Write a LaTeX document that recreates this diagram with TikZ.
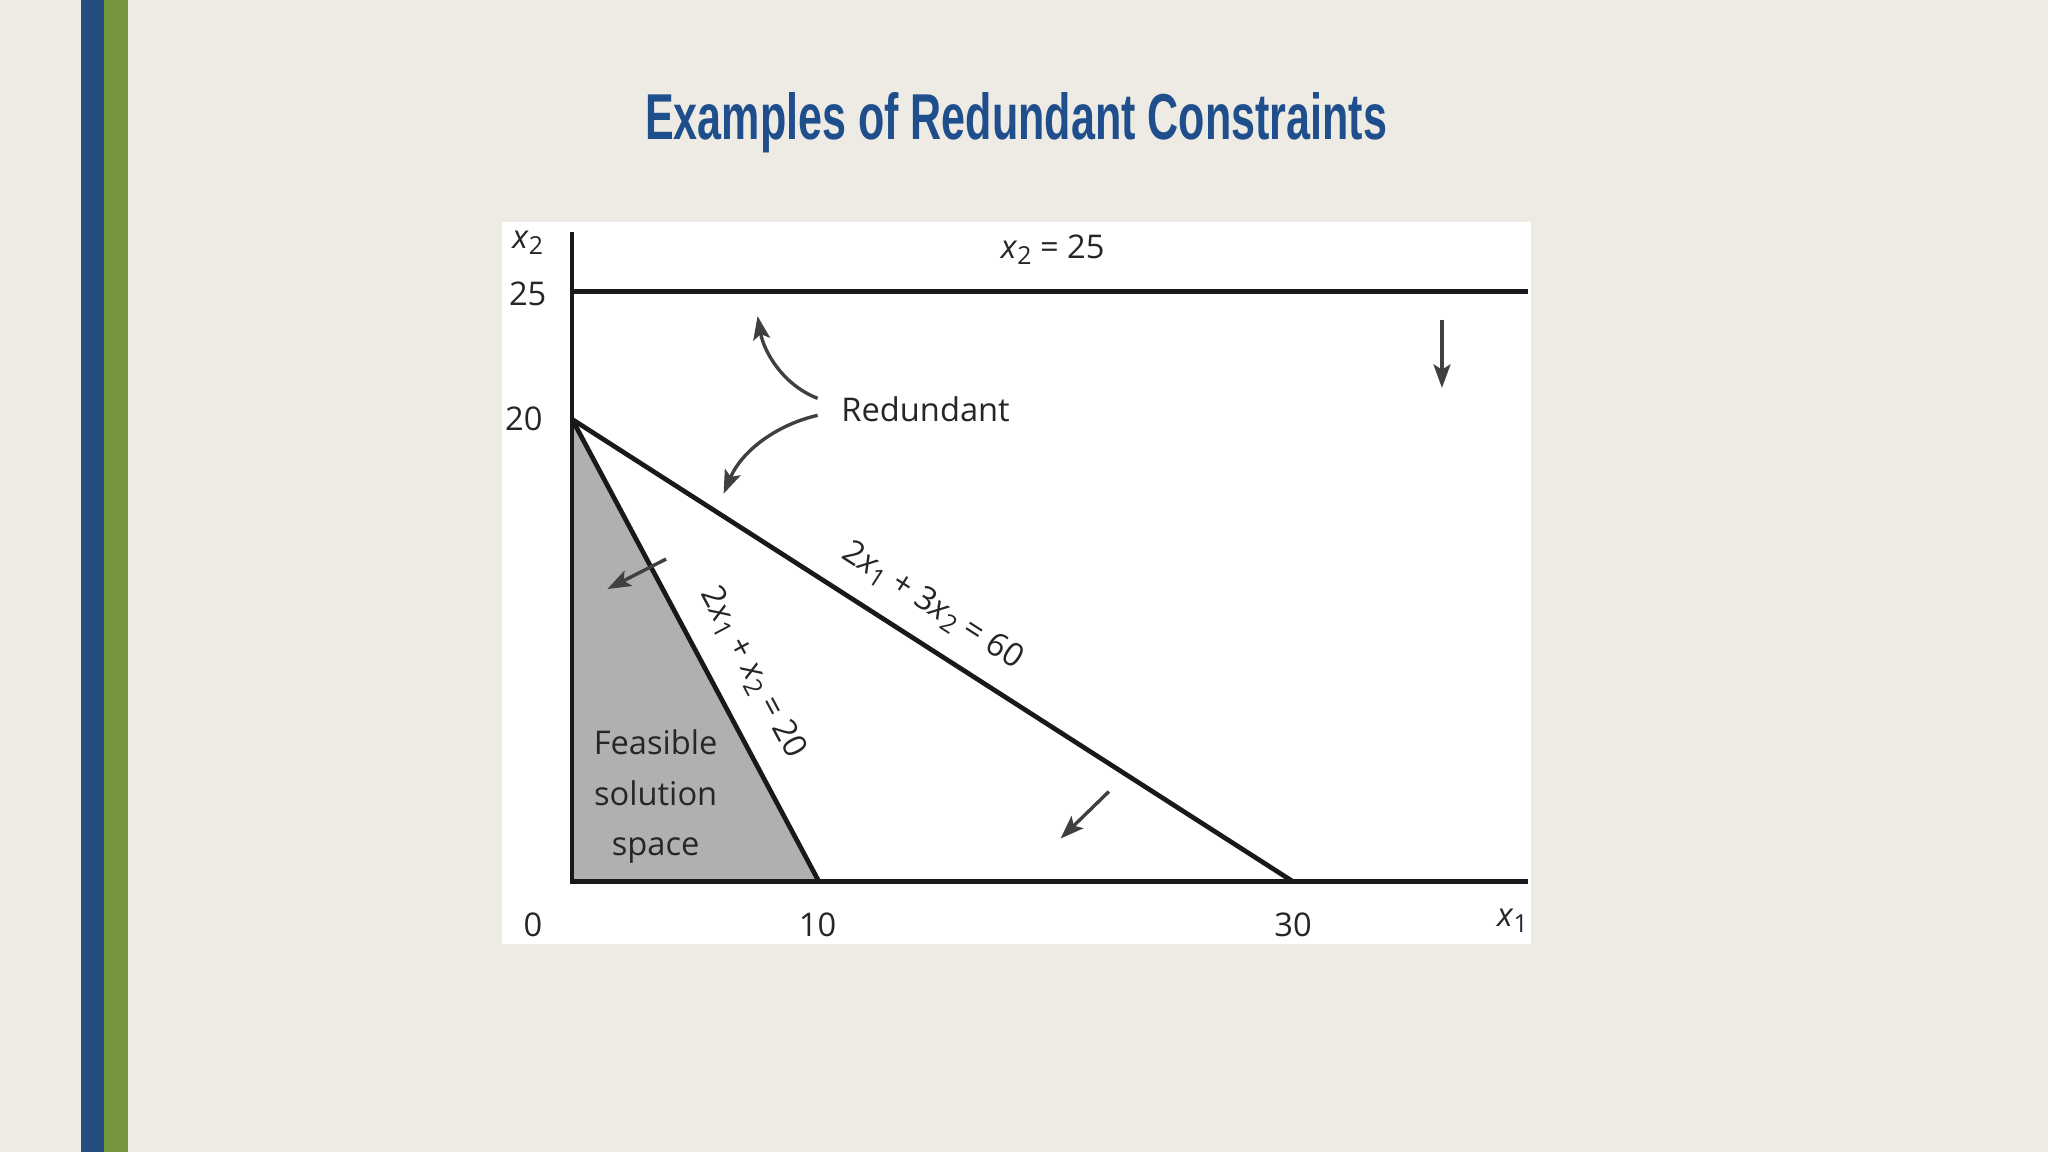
\documentclass[tikz,border=0pt]{standalone}
\usepackage{fontspec}
\setmainfont{Open Sans}
\newfontfamily\titlefont{Liberation Sans}
\usetikzlibrary{arrows.meta}
\definecolor{bg}{HTML}{EEEBE4}
\definecolor{barblue}{HTML}{264D80}
\definecolor{bargreen}{HTML}{76963E}
\definecolor{titleblue}{HTML}{1F4E8C}
\definecolor{feas}{HTML}{B0B0B0}
\newcommand{\vx}[1]{\textit{x}\raisebox{-0.35ex}{\fontsize{19}{20}\selectfont #1}}
\tikzset{
  mainline/.style={line width=3.6pt, black!90},
  arr/.style={line width=2.6pt, black!75, -{Stealth[length=18pt,width=13pt,inset=4pt]}},
  lbl/.style={font=\fontsize{25}{30}\selectfont, text=black!85, inner sep=0pt},
}
\begin{document}
\begin{tikzpicture}[x=1pt,y=-1pt]
\fill[bg] (0,0) rectangle (1568,882);
\useasboundingbox (0,0) rectangle (1568,882);
\fill[barblue] (62,0) rectangle (80,882);
\fill[bargreen] (80,0) rectangle (98,882);
\node[inner sep=0pt] (title) at (778,94) {\resizebox{568pt}{36pt}{\titlefont\bfseries\color{titleblue}\fontsize{34}{40}\selectfont Examples of Redundant Constraints}};
\fill[white] (384,170) rectangle (1172,723);
\coordinate (O) at (438,675);
\coordinate (Ytop) at (438,178);
\coordinate (Xend) at (1170,675);
\coordinate (Y20) at (438,321);
\coordinate (X10) at (627,675);
\coordinate (X30) at (990,675);
\coordinate (L25a) at (438,223);
\coordinate (L25b) at (1170,223);
\fill[feas] (Y20) -- (X10) -- (O) -- cycle;
\draw[mainline] (Ytop) -- (O) -- (Xend);
\draw[mainline] (L25a) -- (L25b);
\draw[mainline] (Y20) -- (X30);
\draw[mainline] (Y20) -- (X10);
\node[lbl] (lx2) at (404,186) {\vx{2}};
\node[lbl] (l25) at (404,225) {25};
\node[lbl] (l20) at (401,321) {20};
\node[lbl] (l0) at (408,708) {0};
\node[lbl] (l10) at (626,708) {10};
\node[lbl] (l30) at (990,708) {30};
\node[lbl] (lx1) at (1158,705) {\vx{1}};
\node[lbl] (leq25) at (806,191) {\vx{2} = 25};
\node[lbl, anchor=west] (red) at (644,313) {Redundant};
\node[lbl, align=center, font=\fontsize{25}{38.5}\selectfont] (feasible) at (502,610) {Feasible\\solution\\space};
\node[lbl, rotate=-32.7] (l60) at (714,464) {2\vx{1} + 3\vx{2} = 60};
\node[lbl, rotate=-61.9] (l20b) at (576,515) {2\vx{1} + \vx{2} = 20};
\coordinate (d1) at (1104,245); \coordinate (d2) at (1104,297);
\draw[arr] (d1) -- (d2);
\coordinate (r1) at (626,305); \coordinate (r1e) at (580,242);
\draw[arr] (r1) .. controls (600,295) and (585,270) .. (r1e);
\coordinate (r2) at (626,318); \coordinate (r2e) at (554,378);
\draw[arr] (r2) .. controls (595,325) and (568,345) .. (r2e);
\coordinate (f1) at (510,428); \coordinate (f1e) at (465,451);
\draw[arr] (f1) -- (f1e);
\coordinate (s1) at (849,606); \coordinate (s1e) at (812,642);
\draw[arr] (s1) -- (s1e);
\end{tikzpicture}
\end{document}
